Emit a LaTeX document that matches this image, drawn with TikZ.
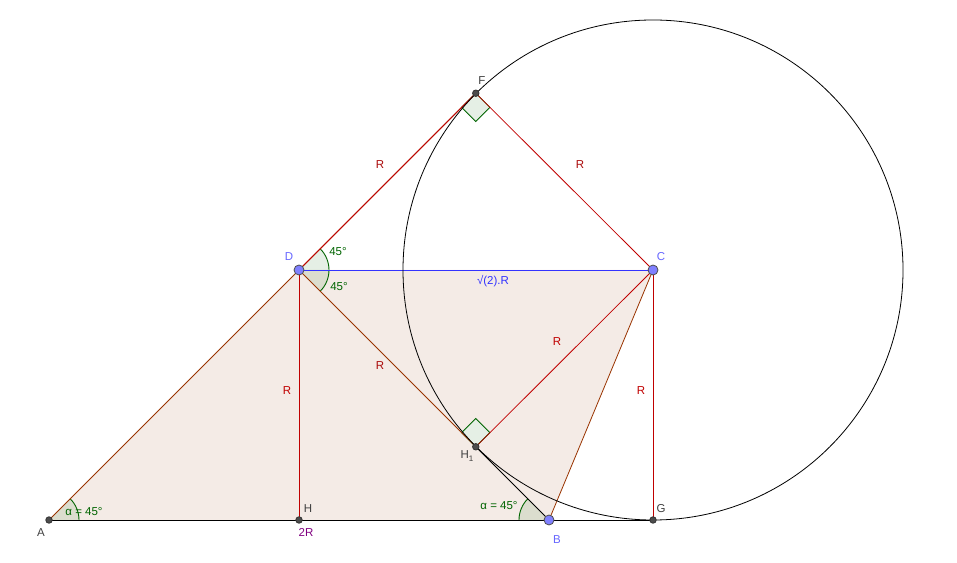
\documentclass[tikz,border=0pt]{standalone}
\usepackage{fontspec}
\setmainfont{Liberation Sans}
\usetikzlibrary{calc,positioning}
\definecolor{pinkfill}{RGB}{244,235,230}
\definecolor{brownline}{RGB}{153,51,0}
\definecolor{redline}{RGB}{192,0,0}
\definecolor{blueline}{RGB}{51,51,255}
\definecolor{pointblue}{RGB}{128,128,255}
\definecolor{anglegreen}{RGB}{0,100,0}
\definecolor{darkred}{RGB}{170,10,10}
\definecolor{ptlabel}{RGB}{64,64,64}
\definecolor{bluelabel}{RGB}{102,102,255}
\definecolor{purplelabel}{RGB}{128,0,128}
\tikzset{
  geo/.style={x=1pt, y=1pt, line width=0.8pt,
    every node/.style={font=\fontsize{11.5}{13}\selectfont, inner sep=0pt}},
  seg/.style={draw=#1, line width=0.8pt},
  anglesector/.style={fill=anglegreen, fill opacity=0.1},
  anglearc/.style={draw=anglegreen, line width=0.9pt},
  rightangle/.style={draw=anglegreen, fill=anglegreen!10, line width=0.8pt},
  freept/.style={circle, draw=black!70, fill=pointblue, minimum size=10pt, line width=0.8pt},
  fixedpt/.style={circle, draw=black!80, fill=black!70, minimum size=6.5pt},
  ptname/.style={text=ptlabel},
  rlabel/.style={text=#1}
}
\begin{document}
\begin{tikzpicture}[geo]
  \useasboundingbox (0,0) rectangle (957,562);
  % main points
  \coordinate (A) at (49,42);
  \coordinate (H) at (299,42);
  \coordinate (B) at (549,42);
  \coordinate (G) at (653,42);
  \coordinate (D) at (299,292);
  \coordinate (C) at (653,292);
  \coordinate (F) at ($(D)+(45:250)$);
  \coordinate (H1) at ($(D)+(-45:250)$);

  % quadrilateral ABCD
  \fill[pinkfill] (A) -- (B) -- (C) -- (D) -- cycle;

  % angle sectors
  \fill[anglesector] (A) -- ++(0:30) arc[start angle=0, end angle=45, radius=30] -- cycle;
  \draw[anglearc] ($(A)+(0:30)$) arc[start angle=0, end angle=45, radius=30];
  \fill[anglesector] (B) -- ++(135:30) arc[start angle=135, end angle=180, radius=30] -- cycle;
  \draw[anglearc] ($(B)+(135:30)$) arc[start angle=135, end angle=180, radius=30];
  \fill[anglesector] (D) -- ++(0:30) arc[start angle=0, end angle=45, radius=30] -- cycle;
  \draw[anglearc] ($(D)+(0:30)$) arc[start angle=0, end angle=45, radius=30];
  \fill[anglesector] (D) -- ++(-45:30) arc[start angle=-45, end angle=0, radius=30] -- cycle;
  \draw[anglearc] ($(D)+(-45:30)$) arc[start angle=-45, end angle=0, radius=30];

  % right angles
  \draw[rightangle] (F) -- ++(225:20) -- ++(315:20) -- ++(45:20) -- cycle;
  \draw[rightangle] (H1) -- ++(135:20) -- ++(45:20) -- ++(-45:20) -- cycle;

  % segments
  \draw[seg=brownline] (A) -- (B);
  \draw[seg=black] (A) -- (G);
  \draw[seg=brownline] (A) -- (F);
  \draw[seg=redline] (D) -- (F);
  \draw[seg=redline] (D) -- (H);
  \draw[seg=brownline] (D) -- (H1);
  \draw[seg=black] (H1) -- (B);
  \draw[seg=brownline] (B) -- (C);
  \draw[seg=redline] (C) -- (F);
  \draw[seg=redline] (C) -- (H1);
  \draw[seg=redline] (C) -- (G);
  \draw[seg=blueline] (D) -- (C);

  % circle through F, H1, G
  \draw[line width=0.8pt] (C) circle[radius=250];

  % points
  \node[fixedpt] (pA) at (A) {};
  \node[fixedpt] (pH) at (H) {};
  \node[fixedpt] (pG) at (G) {};
  \node[fixedpt] (pF) at (F) {};
  \node[fixedpt] (pH1) at (H1) {};
  \node[freept] (pD) at (D) {};
  \node[freept] (pC) at (C) {};
  \node[freept] (pB) at (B) {};

  % point names
  \node[ptname] (lA) at (41,29) {A};
  \node[ptname] (lH) at (308,53) {H};
  \node[text=bluelabel] (lB) at (557,22) {B};
  \node[ptname] (lG) at (661,53) {G};
  \node[text=bluelabel] (lD) at (289,305) {D};
  \node[text=bluelabel] (lC) at (661,305) {C};
  \node[ptname] (lF) at (482,481) {F};
  \node[ptname] (lH1) at (467,106) {H\raisebox{-3pt}{\fontsize{8}{9}\selectfont 1}};

  % lengths
  \node[rlabel=darkred] (rDF) at (380,397) {R};
  \node[rlabel=darkred] (rCF) at (580,397) {R};
  \node[rlabel=redline] (rCH) at (557,220) {R};
  \node[rlabel=darkred] (rDH1) at (380,196) {R};
  \node[rlabel=redline] (rDH) at (287,171) {R};
  \node[rlabel=redline] (rCG) at (641,171) {R};
  \node[rlabel=blueline] (rDC) at (493,281) {√(2).R};
  \node[rlabel=purplelabel] (rAB) at (306,30) {2R};

  % angle values
  \node[text=anglegreen] (aD1) at (338,310) {45°};
  \node[text=anglegreen] (aD2) at (339,275) {45°};
  \node[text=anglegreen] (aA) at (84,50) {α = 45°};
  \node[text=anglegreen] (aB) at (499,56) {α = 45°};
\end{tikzpicture}
\end{document}
